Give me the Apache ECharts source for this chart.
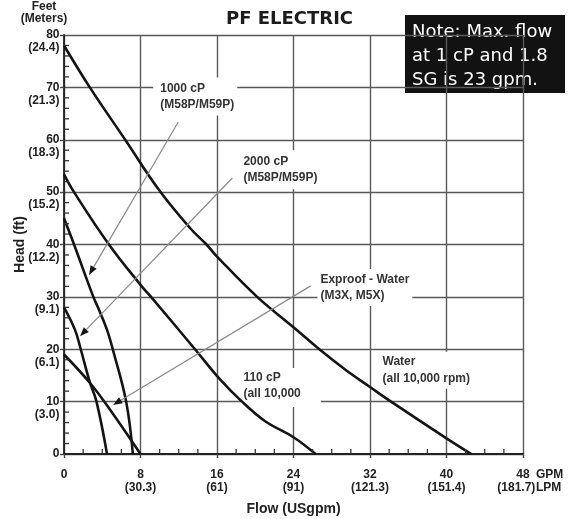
<!DOCTYPE html>
<html lang="en">
<head>
<meta charset="UTF-8">
<title>PF Electric</title>
<script src="https://cdn.jsdelivr.net/npm/echarts@6/dist/echarts.min.js"></script>
<style>
    html, body { margin: 0; padding: 0; background: #fff; }
    #chart { width: 568px; height: 519px; }
</style>
</head>
<body>
<div id="chart"></div>
<script>
// axis ticks, with the metric value printed under each one
var flowTicks = [0, 8, 16, 24, 32, 40, 48];
var flowLpm = ['', '30.3', '61', '91', '121.3', '151.4', '181.7'];
var headTicks = [0, 10, 20, 30, 40, 50, 60, 70, 80];
var headMeters = ['', '3.0', '6.1', '9.1', '12.2', '15.2', '18.3', '21.3', '24.4'];
// small in-plot ticks between the labelled ones
var flowMinor = [2, 4, 6, 10, 12, 14, 18, 20, 22, 26, 28, 30, 34, 36, 38, 42, 44, 46];
var headMinor = [2, 4, 6, 8, 12, 14, 16, 18, 22, 24, 26, 28, 32, 34, 36, 38, 42, 44, 46, 48,
    52, 54, 56, 58, 62, 64, 66, 68, 72, 74, 76, 78];

// curves, [flow gpm, head ft]
var water = [[0, 78], [2.7, 70], [6.4, 60], [9.9, 50.5], [13.2, 43.1], [14.9, 40], [16, 37.7],
    [20.2, 30], [24, 24.2], [26.7, 20], [29.5, 16], [32, 12.8], [34.2, 10], [40, 3], [42.6, 0]];
var cp110 = [[0, 53.4], [1.05, 50], [4.7, 40], [8, 32.3], [9.1, 30], [13.7, 20], [16.2, 14.5],
    [18.5, 10.2], [21, 6.3], [24, 3.2], [26.3, 0]];
var cp1000 = [[0, 45], [1.05, 40], [3.07, 30], [3.67, 27.5], [4.5, 23.7], [5.1, 20], [6.5, 10], [7.2, 0]];
var cp2000 = [[0, 28], [1.15, 23.7], [1.75, 20], [2.7, 13.7], [3.4, 10], [4.5, 0]];
var exproof = [[0, 19], [2.7, 13.6], [4.8, 8.5], [8, 0]];

// callout labels (top-left corner in gpm/ft) and pointer arrows
var noteText = ['1000 cP\n(M58P/M59P)', '2000 cP\n(M58P/M59P)', 'Exproof - Water\n(M3X, M5X)',
    '110 cP\n(all 10,000', 'Water\n(all 10,000 rpm)'];
var noteAt = [[9.33, 71.9], [18.45, 58.0], [26.5, 35.3], [18.55, 16.4], [33.0, 19.5]];
var arrows = [[11.95, 63.4, 2.62, 34.2], [17.6, 52.7, 1.68, 22.5], [25.8, 32.1, 5.14, 9.36]];

var notePad = [[3, 3, 2, 7], [3, 3, 3, 3], [2, 3, 2, 3], [1, 20, 5, 2], [2, 3, 2, 3]];

var sans = "'Liberation Sans', Arial, sans-serif";

var myChart = echarts.init(document.getElementById('chart'));

function curve(name, data) {
    return {
        name: name,
        type: 'line',
        data: data,
        showSymbol: false,
        smooth: 0.4,
        z: 4,
        lineStyle: { color: '#141414', width: 2.6 }
    };
}

// every minor tick as a two-point segment, sitting on the axis and pointing into the plot
var tickSegs = flowMinor.map(function (v) { return { coords: [[v, 0], [v, 0]], dir: 'up' }; })
    .concat(headMinor.map(function (v) { return { coords: [[0, v], [0, v]], dir: 'right' }; }));

var option = {
    animation: false,
    backgroundColor: '#fff',
    title: {
        text: 'PF ELECTRIC',
        left: 226,
        top: 10,
        padding: 0,
        textStyle: { fontFamily: 'DejaVu Sans', fontWeight: 'bold', fontSize: 18, color: '#1c1c1c' }
    },
    grid: { left: 64, right: 45, top: 35, bottom: 65, containLabel: false, outerBoundsMode: 'none' },
    xAxis: {
        type: 'value',
        min: 0,
        max: 48,
        interval: 8,
        name: 'Flow (USgpm)',
        nameLocation: 'middle',
        nameGap: 48,
        nameTextStyle: { fontFamily: sans, fontWeight: 'bold', fontSize: 14, color: '#222' },
        axisLine: { onZero: false, lineStyle: { color: '#222', width: 1.8 } },
        axisTick: { length: 4, lineStyle: { color: '#444', width: 1.4 } },
        splitLine: { lineStyle: { color: '#5a5a5a', width: 1.4 } },
        axisLabel: {
            margin: 14,
            verticalAlign: 'top',
            lineHeight: 13,
            fontFamily: sans,
            fontWeight: 'bold',
            fontSize: 12,
            color: '#222',
            formatter: function (v) {
                var i = flowTicks.indexOf(v);
                if (i <= 0) return v + '\n ';
                // last label sits a little left, to leave room for the units
                return v + '\n(' + flowLpm[i] + ')' + (i === flowTicks.length - 1 ? '    ' : '');
            }
        }
    },
    yAxis: {
        type: 'value',
        min: 0,
        max: 80,
        interval: 10,
        axisLine: { onZero: false, lineStyle: { color: '#222', width: 1.8 } },
        axisTick: { length: 4, lineStyle: { color: '#444', width: 1.4 } },
        splitLine: { lineStyle: { color: '#5a5a5a', width: 1.4 } },
        axisLabel: {
            margin: 4.5,
            lineHeight: 13,
            fontFamily: sans,
            fontWeight: 'bold',
            fontSize: 12,
            color: '#222',
            formatter: function (v) {
                var i = headTicks.indexOf(v);
                // blank first line keeps the feet value on the grid line
                return i > 0 ? ' \n' + v + '\n(' + headMeters[i] + ')' : ' \n' + v + '\n ';
            }
        }
    },
    graphic: [
        {
            type: 'text', x: 44, y: 0,
            style: {
                text: 'Feet\n(Meters)', align: 'center', verticalAlign: 'top', lineHeight: 12.5,
                font: 'bold 12px ' + sans, fill: '#222'
            }
        },
        {
            type: 'text', x: 20, y: 244.5, rotation: Math.PI / 2,
            style: {
                text: 'Head (ft)', align: 'center', verticalAlign: 'middle',
                font: 'bold 14px ' + sans, fill: '#222'
            }
        },
        {
            type: 'text', x: 536, y: 468,
            style: {
                text: 'GPM\nLPM', align: 'left', verticalAlign: 'top', lineHeight: 13,
                font: 'bold 12px ' + sans, fill: '#222'
            }
        },
        {
            type: 'group', left: 405, top: 15, z: 100,
            children: [
                { type: 'rect', shape: { x: 0, y: 0, width: 160, height: 78 }, style: { fill: '#121212' } },
                {
                    type: 'text', x: 7, y: 5.5,
                    style: {
                        text: 'Note: Max. flow\nat 1 cP and 1.8\nSG is 23 gpm.', lineHeight: 24,
                        font: '18px DejaVu Sans', fill: '#fff', verticalAlign: 'top'
                    }
                }
            ]
        }
    ],
    series: [
        {
            name: 'minor ticks',
            type: 'custom',
            coordinateSystem: 'cartesian2d',
            data: flowMinor.map(function (v) { return [v, 0, 0]; })
                .concat(headMinor.map(function (v) { return [0, v, 1]; })),
            encode: { x: 0, y: 1 },
            z: 6,
            silent: true,
            clip: false,
            renderItem: function (params, api) {
                var p = api.coord([api.value(0), api.value(1)]);
                var onFlow = api.value(2) === 0;
                return {
                    type: 'line',
                    shape: onFlow ? { x1: p[0], y1: p[1], x2: p[0], y2: p[1] - 5 }
                                  : { x1: p[0], y1: p[1], x2: p[0] + 5, y2: p[1] },
                    style: { stroke: '#333', lineWidth: 1.3 }
                };
            }
        },
        {
            name: 'labels',
            type: 'custom',
            data: noteAt,
            z: 3,
            renderItem: function (params, api) {
                var p = api.coord([api.value(0), api.value(1)]);
                var i = params.dataIndex;
                return {
                    type: 'text',
                    x: p[0],
                    y: p[1],
                    style: {
                        text: noteText[i],
                        align: 'left',
                        verticalAlign: 'top',
                        lineHeight: 16.5,
                        font: 'bold 12px ' + sans,
                        fill: '#333',
                        backgroundColor: '#fff',
                        padding: notePad[i]
                    }
                };
            }
        },
        curve('Water', water),
        curve('110 cP', cp110),
        curve('1000 cP', cp1000),
        curve('2000 cP', cp2000),
        curve('Exproof - Water', exproof),
        {
            name: 'arrows',
            type: 'custom',
            data: arrows,
            z: 5,
            renderItem: function (params, api) {
                var a = api.coord([api.value(0), api.value(1)]);
                var b = api.coord([api.value(2), api.value(3)]);
                var ang = Math.atan2(b[1] - a[1], b[0] - a[0]);
                var len = 9, half = 3.5;
                var bx = b[0] - len * Math.cos(ang), by = b[1] - len * Math.sin(ang);
                var nx = -Math.sin(ang) * half, ny = Math.cos(ang) * half;
                return {
                    type: 'group',
                    children: [
                        { type: 'line', shape: { x1: a[0], y1: a[1], x2: bx, y2: by },
                          style: { stroke: '#8a8a8a', lineWidth: 1.2 } },
                        { type: 'polygon', shape: { points: [[b[0], b[1]], [bx + nx, by + ny], [bx - nx, by - ny]] },
                          style: { fill: '#151515' } }
                    ]
                };
            }
        }
    ]
};
myChart.setOption(option);
</script>
</body>
</html>
